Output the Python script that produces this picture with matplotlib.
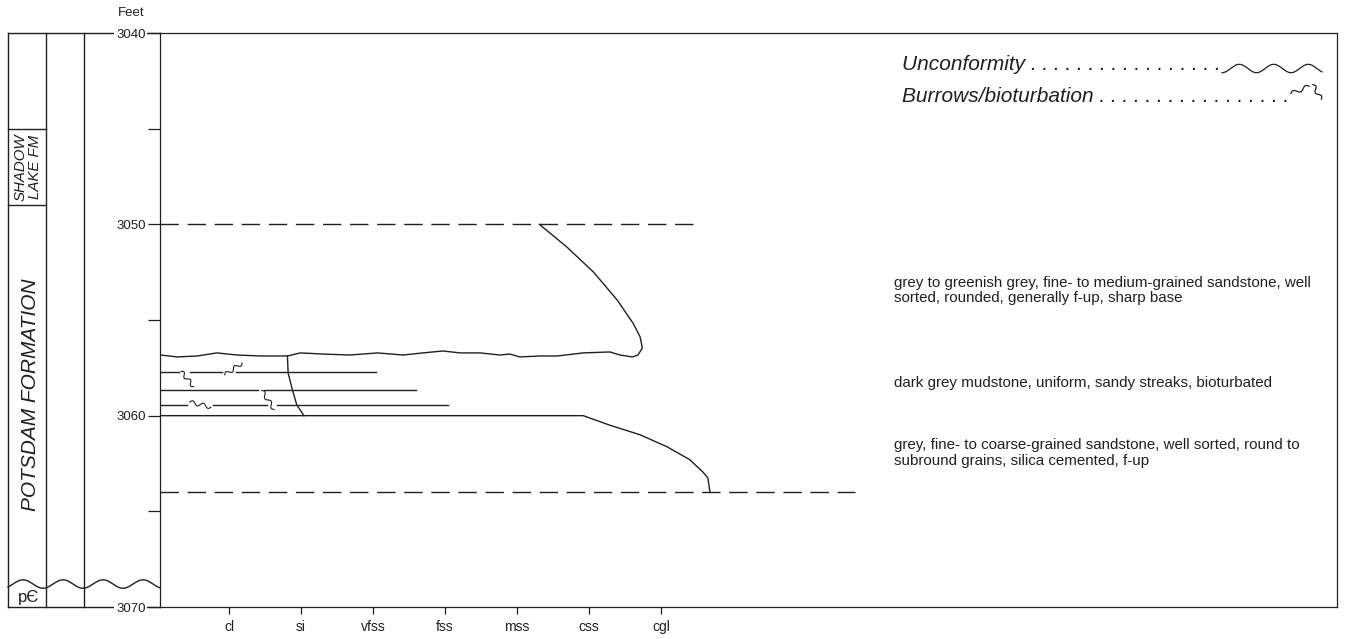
import numpy as np
import matplotlib
matplotlib.use("Agg")
import matplotlib.pyplot as plt
from matplotlib.ticker import FixedLocator

# ---------------------------------------------------------------- data
grain_labels = ['cl', 'si', 'vfss', 'fss', 'mss', 'css', 'cgl']
grain_pos = [1, 2, 3, 4, 5, 6, 7]

depth_major = [3040, 3050, 3060, 3070]
depth_minor = [3045, 3055, 3065]

# formation picks (ft)
shadow_lake_top, shadow_lake_base = 3045, 3049
precambrian_top = 3068.8

# dashed bounding surfaces: depth and grain-size extent
dashed_depths = [3050, 3064]
dashed_extent = [7.44, 9.69]

# upper sandstone: wavy erosional base (left to right) then grain-size profile up to 3050 ft
upper_x = [0.05, 0.28, 0.56, 0.83, 1.11, 1.43, 1.81, 1.99, 2.31, 2.68, 3.06, 3.42,
           3.69, 3.97, 4.21, 4.49, 4.76, 4.90, 5.04, 5.32, 5.56, 5.92, 6.29, 6.43,
           6.60, 6.68, 6.74, 6.71, 6.61, 6.39, 6.06, 5.69, 5.31]
upper_d = [3056.83, 3056.93, 3056.88, 3056.72, 3056.83, 3056.88, 3056.88, 3056.72,
           3056.78, 3056.83, 3056.72, 3056.83, 3056.72, 3056.62, 3056.72, 3056.72,
           3056.83, 3056.78, 3056.93, 3056.88, 3056.88, 3056.72, 3056.67, 3056.83,
           3056.93, 3056.83, 3056.46, 3055.89, 3055.16, 3053.95, 3052.49, 3051.18,
           3050.0]

# lower sandstone: sharp top at 3060 ft then fining-up profile to 3064 ft
lower_x = [5.92, 6.29, 6.71, 7.08, 7.40, 7.58, 7.65, 7.68]
lower_d = [3060.0, 3060.5, 3061.0, 3061.62, 3062.3, 3062.94, 3063.25, 3064.0]

# mudstone sandy streaks: depth, grain-size extent, burrow gaps
streak_depths = [3057.72, 3058.66, 3059.44]
streak_extent = [3.04, 3.60, 4.04]
streak_gaps = [[(0.30, 0.46), (0.90, 1.09)],
               [(1.40, 1.48)],
               [(0.42, 0.77), (1.52, 1.67)]]

# burrow traces: centre (grain size, depth), orientation (deg), length (px)
burrow_x = [0.42, 1.06, 0.60, 1.54]
burrow_d = [3058.08, 3057.56, 3059.42, 3059.18]
burrow_angle = [-50, 35, -13, -56]
burrow_len = [20, 21, 22, 23]

# gradational contact inside the mudstone
contact_x = [1.81, 1.82, 1.88, 1.94, 2.04]
contact_d = [3056.88, 3057.77, 3058.66, 3059.44, 3060.0]

descriptions = [
    "grey to greenish grey, fine- to medium-grained sandstone, well\n"
    "sorted, rounded, generally f-up, sharp base",
    "dark grey mudstone, uniform, sandy streaks, bioturbated",
    "grey, fine- to coarse-grained sandstone, well sorted, round to\n"
    "subround grains, silica cemented, f-up",
]
description_depths = [3053.46, 3058.29, 3061.95]

# ---------------------------------------------------------------- style
plt.rcParams['font.family'] = ['Liberation Sans', 'DejaVu Sans']
INK = '#231f20'
plt.rcParams['text.color'] = INK
plt.rcParams['axes.edgecolor'] = INK
plt.rcParams['xtick.color'] = INK
plt.rcParams['ytick.color'] = INK
LW = 1.0

W, H = 1351, 639
fig = plt.figure(figsize=(W / 100, H / 100), dpi=100)


def box(x0, y0, x1, y1):
    return [x0 / W, 1 - y1 / H, (x1 - x0) / W, (y1 - y0) / H]


def squiggle(a, x, y, angle, length, amp=2.2, waves=1.5, lw=0.8):
    """Small burrow trace drawn in screen space around a data point."""
    cx, cy = a.transData.transform((x, y))
    t = np.linspace(0, 1, 40)
    th = np.deg2rad(angle)
    u = (t - 0.5) * length
    v = amp * np.sin(2 * np.pi * waves * t)
    px = cx + u * np.cos(th) - v * np.sin(th)
    py = cy + u * np.sin(th) + v * np.cos(th)
    pts = a.transData.inverted().transform(np.column_stack([px, py]))
    a.plot(pts[:, 0], pts[:, 1], color=INK, lw=lw, solid_capstyle='round')


# ---------------------------------------------------------------- formation columns
ax_col = fig.add_axes(box(8, 33, 160, 607))
ax_col.set_xlim(0, 152)
ax_col.set_ylim(3070, 3040)
ax_col.axis('off')
col_edges = [0, 38, 76]
for xe in col_edges:
    ax_col.plot([xe, xe], [3040, 3070], color=INK, lw=LW, clip_on=False)
for d in (3040, 3070):
    ax_col.plot([0, 152], [d, d], color=INK, lw=LW, clip_on=False)
for d in (shadow_lake_top, shadow_lake_base):
    ax_col.plot([0, 38], [d, d], color=INK, lw=LW, clip_on=False)

wx = np.linspace(0, 152, 400)
wy = precambrian_top + 0.22 * np.cos(2 * np.pi * (wx + 5) / 40)
ax_col.plot(wx, wy, color=INK, lw=LW, clip_on=False)

ax_col.text(20, (shadow_lake_top + shadow_lake_base) / 2, "SHADOW\nLAKE FM",
            rotation=90, style='italic', fontsize=10.8, ha='center', va='center',
            linespacing=1.0)
ax_col.text(23, 3058.9, "POTSDAM FORMATION", rotation=90, style='italic',
            fontsize=15, ha='center', va='center')
ax_col.text(21, 3069.5, "p\u0404", fontsize=12, ha='center', va='center')

# ---------------------------------------------------------------- log track
ax = fig.add_axes(box(160, 33, 1337, 607))
X0 = 0.04
ax.set_xlim(X0, 16.39)
ax.set_ylim(3070, 3040)
ax.set_xticks(grain_pos, grain_labels)
ax.yaxis.set_major_locator(FixedLocator(depth_major))
ax.yaxis.set_minor_locator(FixedLocator(depth_minor))
ax.set_yticklabels([str(d) for d in depth_major])
ax.tick_params(axis='y', which='both', direction='out', length=8.6, width=0.9,
               pad=1.8, labelsize=9.5)
ax.tick_params(axis='x', direction='out', length=5, width=0.9, pad=4.5, labelsize=10)
for s in ax.spines.values():
    s.set_linewidth(0.9)
for lbl in ax.get_yticklabels():
    lbl.set_bbox(dict(facecolor='white', edgecolor='none', pad=1.2))

for d, xe in zip(dashed_depths, dashed_extent):
    ax.plot([X0, xe], [d, d], color=INK, lw=LW, dashes=(13.25, 6.25))

ax.plot(upper_x, upper_d, color=INK, lw=LW)
ax.plot([X0] + lower_x, [lower_d[0]] + lower_d, color=INK, lw=LW)
ax.plot(contact_x, contact_d, color=INK, lw=LW)

for d, xe, gaps in zip(streak_depths, streak_extent, streak_gaps):
    starts = [X0] + [g[1] for g in gaps]
    ends = [g[0] for g in gaps] + [xe]
    for s0, s1 in zip(starts, ends):
        ax.plot([s0, s1], [d, d], color=INK, lw=LW)

for bx, bd, ba, bl in zip(burrow_x, burrow_d, burrow_angle, burrow_len):
    squiggle(ax, bx, bd, ba, bl, waves=2.0, amp=2.0)

for txt, d in zip(descriptions, description_depths):
    ax.text(10.24, d, txt, fontsize=10.9, ha='left', va='center', linespacing=1.12)

# ---------------------------------------------------------------- key and units
ax_px = fig.add_axes([0, 0, 1, 1])
ax_px.set_xlim(0, W)
ax_px.set_ylim(H, 0)
ax_px.axis('off')
ax_px.patch.set_visible(False)

ax_px.text(131, 13, "Feet", ha='center', va='center', fontsize=9.5)

ax_px.text(902, 70, "Unconformity" + " ." * 17, fontsize=15, style='italic',
           va='baseline')
lx = np.linspace(1222, 1322, 200)
ax_px.plot(lx, 68.5 + 4.2 * np.cos(2 * np.pi * (lx - 1222) / 34.5), color=INK, lw=0.9)

ax_px.text(902, 102, "Burrows/bioturbation" + " ." * 17, fontsize=15,
           style='italic', va='baseline')
squiggle(ax_px, 1300, 90, 22, 20, amp=2.0, waves=1.5, lw=0.9)
squiggle(ax_px, 1317, 92, -60, 17, amp=2.0, waves=1.5, lw=0.9)

fig.savefig("out.png", dpi=100)
